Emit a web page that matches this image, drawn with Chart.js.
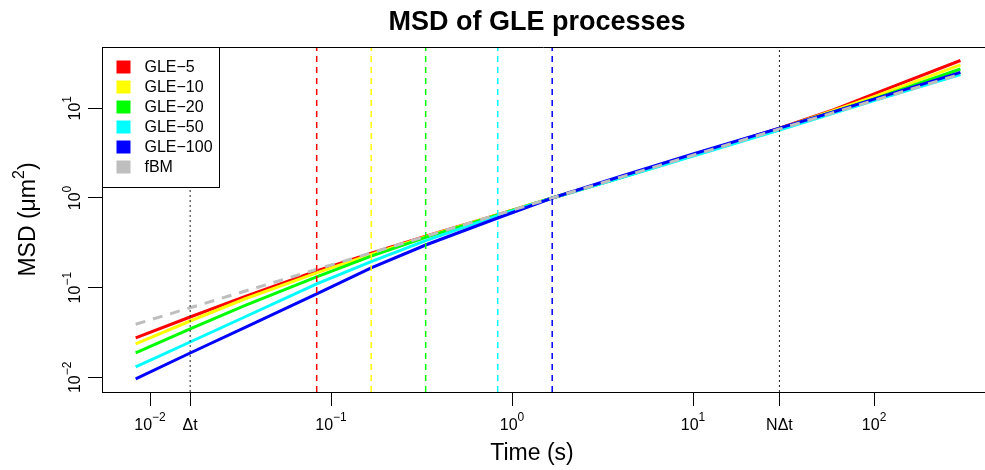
<!DOCTYPE html>
<html>
<head>
<meta charset="utf-8">
<script src="https://cdn.jsdelivr.net/npm/chart.js@4.4.1/dist/chart.umd.min.js"></script>
<style>
  html, body { margin: 0; padding: 0; background: #fff; }
  #wrap { width: 985px; height: 470px; }
</style>
</head>
<body>
<div id="wrap"><canvas id="msd" width="985" height="470"></canvas></div>
<script>
// sampling step and trajectory length
const dt = 1 / 60;
const N = 1800;

// lag times (s)
const lags = [1/120, 1/60, 1/30, 1/12, 1/6, 1/3, 5/6, 5/3, 4, 10, 30, 60, 100, 300];

// MSD (um^2)
const gle5   = [0.0275, 0.0471, 0.0796, 0.1535, 0.243, 0.374, 0.652, 1.0, 1.70, 3.00, 6.00, 9.66, 14.45, 34.1];
const gle10  = [0.0236, 0.0425, 0.0748, 0.1459, 0.235, 0.371, 0.650, 1.0, 1.70, 2.99, 5.94, 9.44, 13.5, 30.4];
const gle20  = [0.0187, 0.0347, 0.0632, 0.1316, 0.2245, 0.364, 0.645, 1.0, 1.69, 2.97, 5.90, 9.16, 12.7, 27.4];
const gle50  = [0.0131, 0.0248, 0.0471, 0.110, 0.195, 0.335, 0.635, 1.0, 1.68, 2.94, 5.73, 8.86, 12.16, 23.8];
const gle100 = [0.0096, 0.0187, 0.0358, 0.0851, 0.166, 0.299, 0.598, 1.0, 1.745, 3.09, 6.00, 9.14, 12.63, 25.1];
const fbm    = [0.0391, 0.0597, 0.0912, 0.160, 0.244, 0.373, 0.654, 1.0, 1.708, 2.99, 5.87, 8.96, 12.25, 24.0];

const seriesNames = ['GLE\u22125', 'GLE\u221210', 'GLE\u221220', 'GLE\u221250', 'GLE\u2212100', 'fBM'];
const seriesColors = ['#FF0000', '#FFFF00', '#00FF00', '#00FFFF', '#0000FF', '#BEBEBE'];
const modes = [5, 10, 20, 50, 100];

// axis ticks: [base, superscript]
const xTicks = [0.01, dt, 0.1, 1, 10, N * dt, 100];
const xTickLabels = [['10', '\u22122'], ['\u0394t', ''], ['10', '\u22121'], ['10', '0'], ['10', '1'], ['N\u0394t', ''], ['10', '2']];
const yTicks = [0.01, 0.1, 1, 10];
const yTickLabels = [['10', '\u22122'], ['10', '\u22121'], ['10', '0'], ['10', '1']];

const xRange = [0.00543, 410];
const yRange = [0.00687, 48.2];

const FONT = '"Liberation Sans", Arial, Helvetica, sans-serif';

function toPoints(vals) {
    return lags.map((t, i) => ({ x: t, y: vals[i] }));
}

const curves = [gle5, gle10, gle20, gle50, gle100, fbm];
const datasets = [];

// vertical markers at K*dt
modes.forEach((k, i) => {
    datasets.push({
        data: [{ x: k * dt, y: yRange[0] }, { x: k * dt, y: yRange[1] }],
        borderColor: seriesColors[i],
        borderWidth: 1.5,
        borderDash: [6, 5],
        pointRadius: 0,
        order: 0
    });
});
[dt, N * dt].forEach(t => {
    datasets.push({
        data: [{ x: t, y: yRange[0] }, { x: t, y: yRange[1] }],
        borderColor: '#222',
        borderWidth: 1,
        borderDash: [2, 3],
        pointRadius: 0,
        order: 0
    });
});

curves.forEach((vals, i) => {
    datasets.push({
        label: seriesNames[i],
        data: toPoints(vals),
        borderColor: seriesColors[i],
        borderWidth: 3,
        borderDash: i === 5 ? [10, 8] : [],
        pointRadius: 0,
        tension: 0,
        order: 6 - i
    });
});

function powLabel(ctx, base, sup, cx, baseline, size) {
    const supSize = Math.round(size * 0.72);
    ctx.font = size + 'px ' + FONT;
    const wb = ctx.measureText(base).width;
    ctx.font = supSize + 'px ' + FONT;
    const ws = sup ? ctx.measureText(sup).width : 0;
    const x0 = cx - (wb + ws) / 2;
    ctx.textAlign = 'left';
    ctx.textBaseline = 'alphabetic';
    ctx.font = size + 'px ' + FONT;
    ctx.fillText(base, x0, baseline);
    if (sup) {
        ctx.font = supSize + 'px ' + FONT;
        ctx.fillText(sup, x0 + wb, baseline - size * 0.55);
    }
}

const decorations = {
    id: 'decorations',
    afterDraw(chart) {
        const { ctx, chartArea: a, scales: { x, y } } = chart;
        ctx.save();
        ctx.fillStyle = '#000';
        ctx.strokeStyle = '#000';
        ctx.lineWidth = 1;

        // top frame
        ctx.beginPath();
        ctx.moveTo(a.left, Math.round(a.top) + 0.5);
        ctx.lineTo(a.right, Math.round(a.top) + 0.5);
        ctx.stroke();

        // title
        ctx.font = 'bold 27px ' + FONT;
        ctx.textAlign = 'center';
        ctx.textBaseline = 'alphabetic';
        ctx.fillText('MSD of GLE processes', 537, 30);

        // x tick labels
        xTicks.forEach((v, i) => {
            powLabel(ctx, xTickLabels[i][0], xTickLabels[i][1], x.getPixelForValue(v), 430, 16);
        });
        // y tick labels (rotated)
        yTicks.forEach((v, i) => {
            ctx.save();
            ctx.translate(80, y.getPixelForValue(v));
            ctx.rotate(-Math.PI / 2);
            powLabel(ctx, yTickLabels[i][0], yTickLabels[i][1], 0, 0, 16);
            ctx.restore();
        });

        // axis titles
        ctx.font = '23px ' + FONT;
        ctx.textAlign = 'center';
        ctx.fillText('Time (s)', 532, 460);

        ctx.save();
        ctx.translate(35, (a.top + a.bottom) / 2);
        ctx.rotate(-Math.PI / 2);
        ctx.font = '23px ' + FONT;
        const p1 = 'MSD (\u03bcm', p3 = ')';
        const w1 = ctx.measureText(p1).width, w3 = ctx.measureText(p3).width;
        ctx.font = '16px ' + FONT;
        const w2 = ctx.measureText('2').width;
        let sx = -(w1 + w2 + w3) / 2;
        ctx.textAlign = 'left';
        ctx.font = '23px ' + FONT;
        ctx.fillText(p1, sx, 0);
        ctx.font = '16px ' + FONT;
        ctx.fillText('2', sx + w1, -11);
        ctx.font = '23px ' + FONT;
        ctx.fillText(p3, sx + w1 + w2, 0);
        ctx.restore();

        // legend
        const lx = Math.round(a.left) + 0.5, ly = Math.round(a.top) + 0.5;
        ctx.fillStyle = '#fff';
        ctx.fillRect(lx, ly, 117, 140);
        ctx.strokeRect(lx, ly, 117, 140);
        ctx.font = '16px ' + FONT;
        ctx.textBaseline = 'middle';
        ctx.textAlign = 'left';
        seriesNames.forEach((name, i) => {
            const cy = ly + 20 + i * 20;
            ctx.fillStyle = seriesColors[i];
            ctx.fillRect(lx + 14, cy - 7, 14, 13);
            ctx.fillStyle = '#000';
            ctx.fillText(name, lx + 42, cy);
        });
        ctx.restore();
    }
};

new Chart(document.getElementById('msd'), {
    type: 'line',
    data: { datasets: datasets },
    plugins: [decorations],
    options: {
        responsive: false,
        animation: false,
        events: [],
        layout: { padding: { top: 47, right: 0, left: 0, bottom: 0 } },
        plugins: {
            legend: { display: false },
            tooltip: { enabled: false },
            title: { display: false }
        },
        scales: {
            x: {
                type: 'logarithmic',
                min: xRange[0],
                max: xRange[1],
                afterBuildTicks: s => { s.ticks = xTicks.map(v => ({ value: v })); },
                afterFit: s => { s.height = 78; },
                ticks: { display: false },
                grid: { drawOnChartArea: false, drawTicks: true, tickLength: 14, color: '#000', lineWidth: 1 },
                border: { display: true, color: '#000', width: 1 }
            },
            y: {
                type: 'logarithmic',
                min: yRange[0],
                max: yRange[1],
                afterBuildTicks: s => { s.ticks = yTicks.map(v => ({ value: v })); },
                afterFit: s => { s.width = 102; },
                ticks: { display: false },
                grid: { drawOnChartArea: false, drawTicks: true, tickLength: 14, color: '#000', lineWidth: 1 },
                border: { display: true, color: '#000', width: 1 }
            }
        }
    }
});
</script>
</body>
</html>
